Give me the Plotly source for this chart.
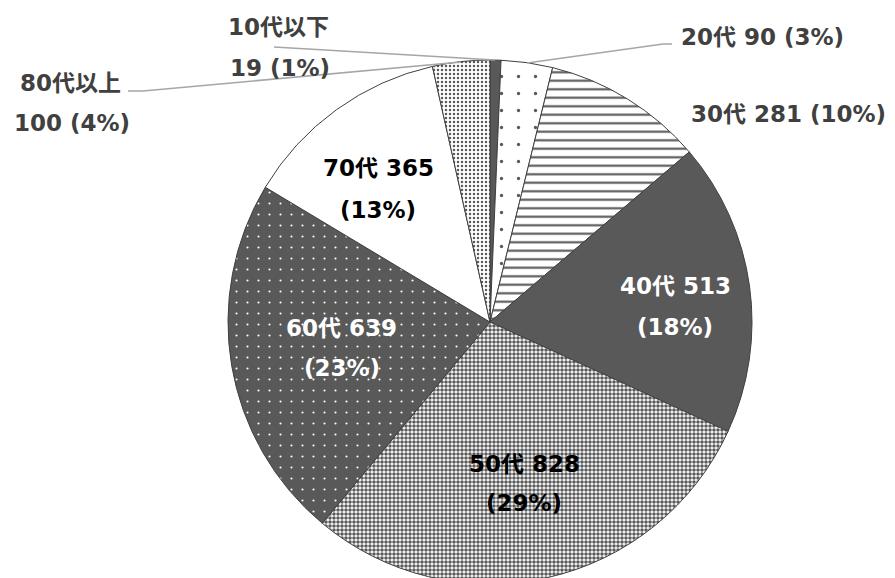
import plotly.graph_objects as go

categories = ["10代以下", "20代", "30代", "40代", "50代", "60代", "70代", "80代以上"]
values = [19, 90, 281, 513, 828, 639, 365, 100]
percents = ["1%", "3%", "10%", "18%", "29%", "23%", "13%", "4%"]

W, H = 895, 600
DARK = "#595959"

pat_shape = ["", ".", "-", "", ".", ".", "", "."]
pat_fg = [DARK, DARK, DARK, DARK, DARK, "white", DARK, DARK]
pat_bg = [DARK, "white", "white", DARK, "white", DARK, "white", "white"]
pat_size = [8, 17, 8.5, 8, 4, 11, 8, 4]
pat_sol = [0.2, 0.03, 0.25, 0.2, 0.62, 0.03, 0.2, 0.3]

fig = go.Figure()
fig.add_trace(go.Pie(
    labels=categories, values=values, sort=False, direction="clockwise",
    rotation=0, textinfo="none", hoverinfo="label+value+percent",
    showlegend=False,
    domain=dict(x=[228 / W, 752 / W], y=[1 - 584 / H, 1 - 60 / H]),
    marker=dict(
        colors=pat_bg,
        line=dict(color="#404040", width=1),
        pattern=dict(shape=pat_shape, fgcolor=pat_fg, bgcolor=pat_bg,
                     size=pat_size, solidity=pat_sol, fillmode="replace"),
    ),
))

FONT = "DejaVu Sans, 'Noto Sans CJK JP', sans-serif"
OUT = "#404040"

labels = [
    (f"{categories[0]}", 278, 27, OUT),
    (f"{values[0]} ({percents[0]})", 280, 68, OUT),
    (f"{categories[1]} {values[1]} ({percents[1]})", 762, 37, OUT),
    (f"{categories[2]} {values[2]} ({percents[2]})", 788, 114, OUT),
    (f"{categories[3]} {values[3]}", 675, 286, "white"),
    (f"({percents[3]})", 675, 327, "white"),
    (f"{categories[4]} {values[4]}", 524, 464, "black"),
    (f"({percents[4]})", 524, 503, "black"),
    (f"{categories[5]} {values[5]}", 341, 328, "white"),
    (f"({percents[5]})", 342, 368, "white"),
    (f"{categories[6]} {values[6]}", 378, 168, "black"),
    (f"({percents[6]})", 378, 210, "black"),
    (f"{categories[7]}", 70, 83, OUT),
    (f"{values[7]} ({percents[7]})", 72, 123, OUT),
]
for txt, x, y, c in labels:
    fig.add_annotation(x=x, y=y, xref="x", yref="y", text=f"<b>{txt}</b>",
                       showarrow=False, font=dict(family=FONT, size=23, color=c),
                       xanchor="center", yanchor="middle")

LEAD = dict(color="#a6a6a6", width=1.5)
fig.add_shape(type="path", path="M 274 47 L 495 60", xref="x", yref="y", line=LEAD)
fig.add_shape(type="path", path="M 672 44 L 663 44 L 527 63", xref="x", yref="y", line=LEAD)
fig.add_shape(type="path", path="M 128 91 L 143 91 L 461 62", xref="x", yref="y", line=LEAD)

fig.update_layout(
    width=W, height=H, margin=dict(l=0, r=0, t=0, b=0),
    paper_bgcolor="white", plot_bgcolor="rgba(0,0,0,0)",
    xaxis=dict(range=[0, W], visible=False, fixedrange=True),
    yaxis=dict(range=[H, 0], visible=False, fixedrange=True),
    font=dict(family=FONT),
)

fig.write_html("out.html", config={"displayModeBar": False},
               post_script="document.body.style.margin='0';document.body.style.overflow='hidden';document.documentElement.style.overflow='hidden';")
